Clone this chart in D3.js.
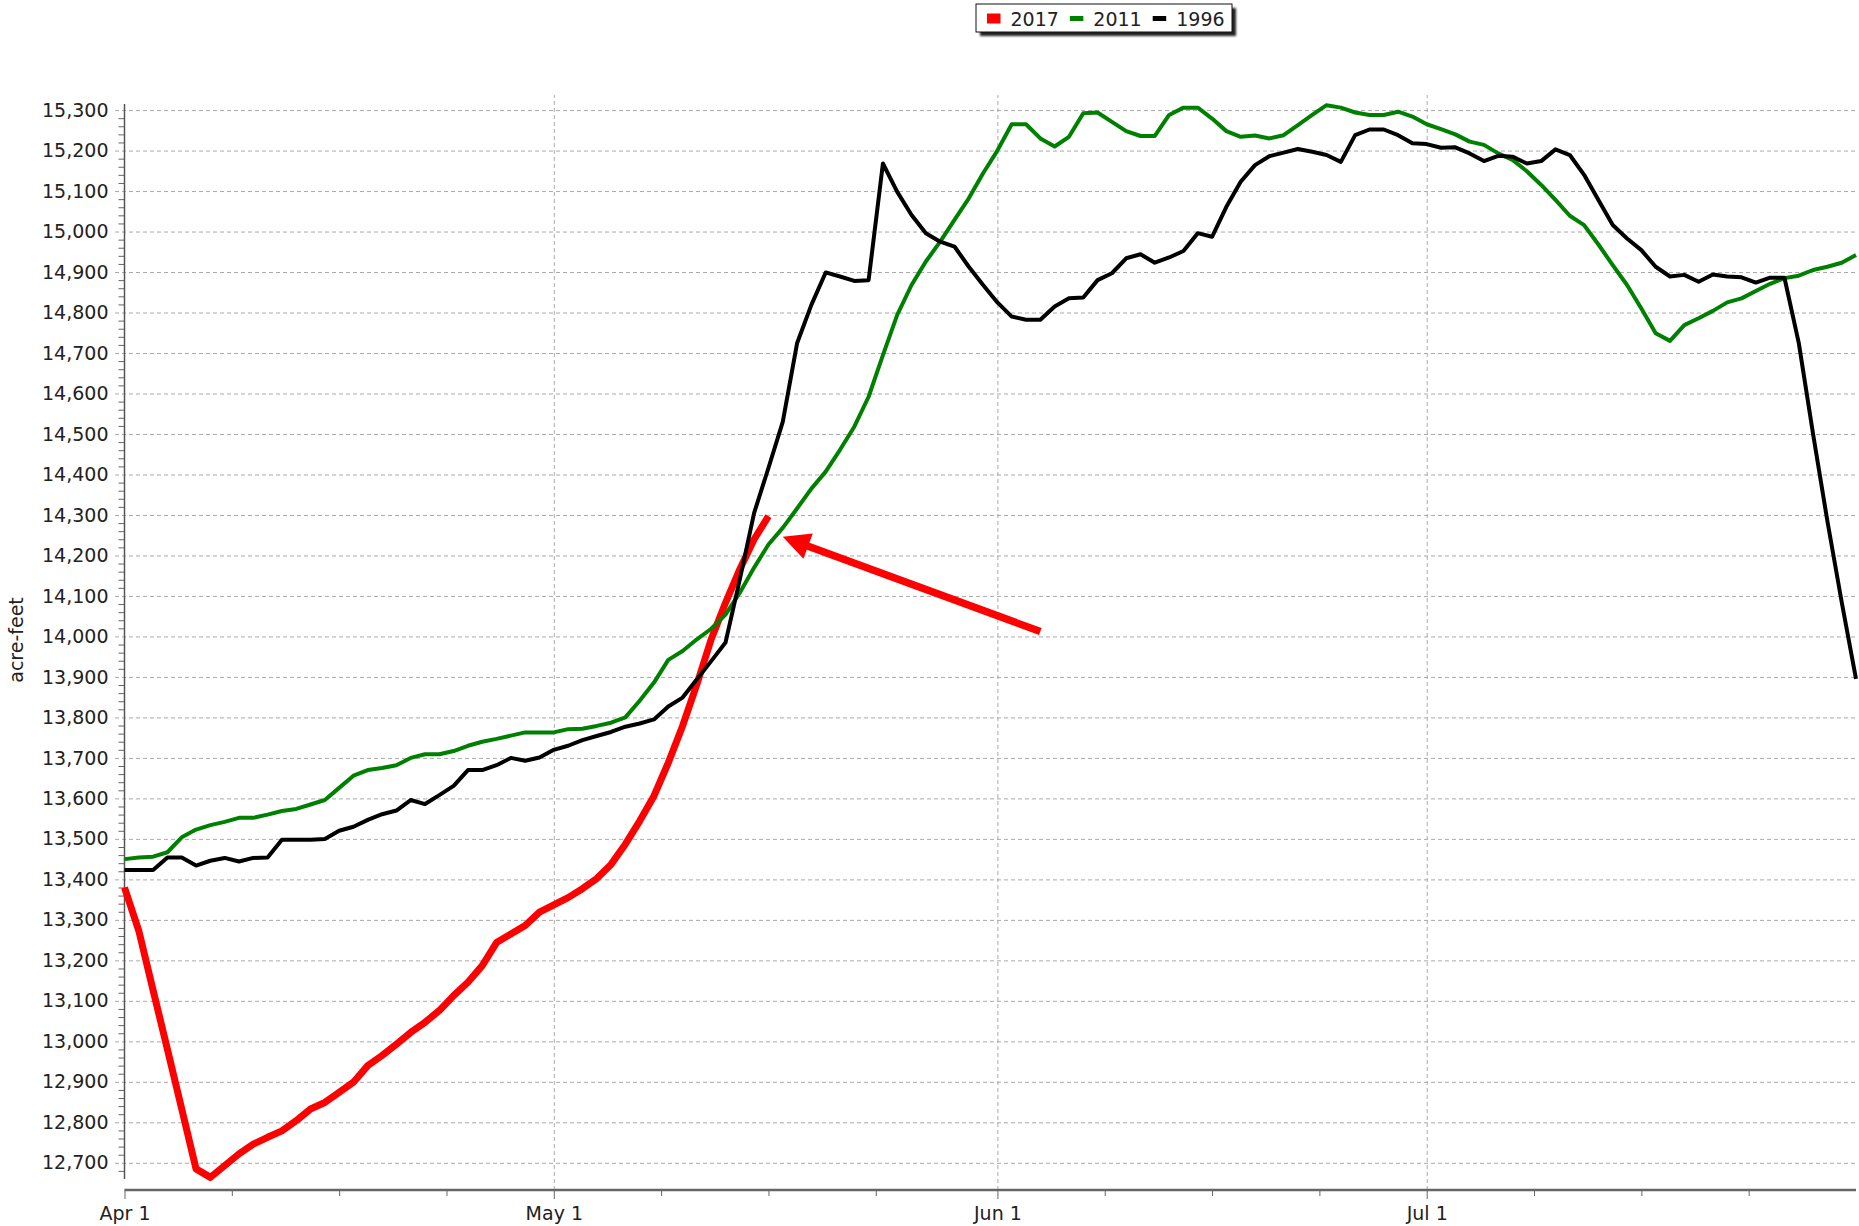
<!DOCTYPE html>
<html>
<head>
<meta charset="utf-8">
<script src="https://cdn.jsdelivr.net/npm/d3@7"></script>
<style>
  html, body { margin: 0; padding: 0; background: #fff; }
  svg { display: block; }
  text { font-family: "DejaVu Sans", Verdana, sans-serif; fill: #222; }
</style>
</head>
<body>
<svg id="chart" width="1859" height="1226"></svg>
<script>
// Daily reservoir storage (acre-feet), one value per day starting April 1.
const seriesNames = ["2017", "2011", "1996"];

const acreFeet2017 = [
  13380, 13273, 13126, 12980, 12833, 12685, 12664, 12693, 12722, 12746,
  12763, 12779, 12804, 12833, 12849, 12874, 12899, 12940, 12965, 12993,
  13022, 13047, 13076, 13113, 13146, 13187, 13244, 13265, 13286, 13319,
  13337, 13355, 13377, 13402, 13437, 13487, 13544, 13606, 13688, 13779,
  13882, 13993, 14083, 14166, 14240, 14297
];

const acreFeet2011 = [
  13450, 13454, 13456, 13467, 13504, 13523, 13534, 13542, 13552, 13552,
  13560, 13569, 13574, 13585, 13596, 13626, 13656, 13670, 13675, 13682,
  13700, 13709, 13709, 13717, 13730, 13740, 13747, 13755, 13763, 13763,
  13763, 13771, 13772, 13779, 13787, 13800, 13841, 13886, 13942, 13964,
  13993, 14019, 14054, 14108, 14170, 14227, 14268, 14316, 14365, 14407,
  14461, 14518, 14592, 14695, 14794, 14868, 14926, 14975, 15029, 15082,
  15144, 15200, 15265, 15265, 15230, 15210, 15234, 15292, 15294, 15271,
  15248, 15236, 15236, 15288, 15306, 15306, 15279, 15248, 15234, 15237,
  15230, 15238, 15263, 15288, 15312, 15306, 15294, 15288, 15288, 15296,
  15284, 15265, 15253, 15240, 15222, 15214, 15193, 15177, 15149, 15115,
  15078, 15039, 15016, 14968, 14917, 14868, 14810, 14749, 14730, 14769,
  14786, 14804, 14825, 14835, 14853, 14871, 14885, 14891, 14905, 14913,
  14923, 14942
];

const acreFeet1996 = [
  13423, 13423, 13423, 13454, 13454, 13434, 13446, 13453, 13444, 13453,
  13454, 13498, 13498, 13498, 13500, 13520, 13530, 13547, 13561, 13570,
  13596, 13586, 13608, 13631, 13670, 13670, 13682, 13700, 13693, 13701,
  13720, 13730, 13744, 13754, 13764, 13777, 13785, 13795, 13827, 13849,
  13894, 13939, 13985, 14141, 14305, 14416, 14530, 14724, 14819, 14899,
  14889, 14878, 14880, 15168, 15098, 15041, 14996, 14975, 14963, 14913,
  14868, 14825, 14790, 14782, 14782, 14815, 14835, 14837, 14880, 14897,
  14934, 14944, 14923, 14936, 14952, 14996, 14987, 15061, 15123, 15164,
  15186, 15195, 15204, 15197, 15189, 15172, 15238, 15252, 15252, 15238,
  15218, 15216, 15207, 15208, 15193, 15174, 15187, 15185, 15168, 15174,
  15203, 15189, 15140, 15078, 15016, 14983, 14954, 14913, 14889, 14893,
  14876, 14894, 14889, 14887, 14874, 14886, 14886, 14725, 14500, 14285,
  14085, 13895
];

const yTickValues = d3.range(12700, 15301, 100);
const monthLabels = ["Apr 1", "May 1", "Jun 1", "Jul 1"];

// Annotation arrow: [day offset from April 1, acre-feet]
const arrowTail = [64, 14012];
const arrowTip = [46, 14246];

// ---------- layout ----------
const svg = d3.select("#chart");
const plotLeft = 124.5, plotRight = 1856, plotTop = 104, plotBottom = 1179;
const xAxisY = 1190, gridTop = 95;

const start = new Date(Date.UTC(2017, 3, 1));
const end = new Date(Date.UTC(2017, 6, 31));
const dayDate = i => d3.utcDay.offset(start, i);

const x = d3.scaleUtc().domain([start, end]).range([plotLeft, plotRight]);
const y = d3.scaleLinear().domain([12660, 15315]).range([plotBottom, plotTop]);

const styles = {
  "2017": { color: "#ff0000", width: 7, swatchH: 10 },
  "2011": { color: "#008000", width: 4, swatchH: 5 },
  "1996": { color: "#000000", width: 4, swatchH: 5 }
};
const seriesData = [acreFeet2017, acreFeet2011, acreFeet1996];

const gridColor = "#aaa";
const dash = "4,3";

// horizontal grid (also forms the major tick stubs left of the axis)
svg.append("g")
  .attr("transform", `translate(115,0)`)
  .call(d3.axisLeft(y).tickValues(yTickValues).tickSize(-(plotRight - 115)).tickFormat(""))
  .call(g => g.select(".domain").remove())
  .selectAll("line")
  .attr("stroke", gridColor)
  .attr("stroke-dasharray", dash);

// vertical grid at month starts
const monthStarts = d3.utcMonth.range(start, d3.utcDay.offset(end, 1));
svg.append("g")
  .attr("transform", `translate(0,${xAxisY})`)
  .call(d3.axisBottom(x).tickValues(monthStarts.slice(1)).tickSize(-(xAxisY - gridTop)).tickFormat(""))
  .call(g => g.select(".domain").remove())
  .selectAll("line")
  .attr("stroke", gridColor)
  .attr("stroke-dasharray", dash);

// y axis labels
const yAxis = svg.append("g")
  .attr("transform", `translate(${plotLeft},0)`)
  .call(d3.axisLeft(y).tickValues(yTickValues).tickSize(0).tickPadding(16).tickFormat(d3.format(",")));
yAxis.select(".domain").remove();
yAxis.selectAll("text")
  .attr("font-family", "DejaVu Sans, Verdana, sans-serif")
  .attr("font-size", 19)
  .attr("fill", "#222");

// y minor ticks every 20
const yMinor = d3.range(12680, 15315, 20).filter(v => v % 100 !== 0);
svg.append("g")
  .attr("transform", `translate(${plotLeft},0)`)
  .call(d3.axisLeft(y).tickValues(yMinor).tickSize(6).tickFormat(""))
  .call(g => g.select(".domain").remove())
  .selectAll("line")
  .attr("stroke", "#666");

// y axis line
svg.append("line")
  .attr("x1", plotLeft).attr("x2", plotLeft)
  .attr("y1", plotTop).attr("y2", plotBottom)
  .attr("stroke", "#555").attr("stroke-width", 1.5);

// x axis: month ticks and labels
const xAxis = svg.append("g")
  .attr("transform", `translate(0,${xAxisY})`)
  .call(d3.axisBottom(x).tickValues(monthStarts)
    .tickSize(9).tickSizeOuter(0).tickPadding(8)
    .tickFormat((d, i) => monthLabels[i]));
xAxis.select(".domain").remove();
xAxis.selectAll("line").attr("stroke", "#666");
xAxis.selectAll("text")
  .attr("font-family", "DejaVu Sans, Verdana, sans-serif")
  .attr("font-size", 19)
  .attr("fill", "#222");

// x minor ticks every 7.5 days after each month start
const xMinor = [];
monthStarts.forEach(m => {
  for (let k = 1; k <= 3; k++) {
    const t = new Date(m.getTime() + k * 7.5 * 864e5);
    if (t <= end) xMinor.push(t);
  }
});
svg.append("g")
  .attr("transform", `translate(0,${xAxisY})`)
  .call(d3.axisBottom(x).tickValues(xMinor).tickSize(6).tickSizeOuter(0).tickFormat(""))
  .call(g => g.select(".domain").remove())
  .selectAll("line").attr("stroke", "#666");

// x axis line
svg.append("line")
  .attr("x1", plotLeft).attr("x2", plotRight)
  .attr("y1", xAxisY).attr("y2", xAxisY)
  .attr("stroke", "#666").attr("stroke-width", 2.5);

// y axis title
svg.append("text")
  .attr("transform", `translate(23,640) rotate(-90)`)
  .attr("text-anchor", "middle")
  .attr("font-size", 19)
  .text("acre-feet");

// ---------- series ----------
const line = d3.line()
  .x((d, i) => x(dayDate(i)))
  .y(d => y(d));

seriesNames.forEach((name, k) => {
  svg.append("path")
    .datum(seriesData[k])
    .attr("fill", "none")
    .attr("stroke", styles[name].color)
    .attr("stroke-width", styles[name].width)
    .attr("stroke-linejoin", "round")
    .attr("d", line);
});

// ---------- annotation arrow ----------
const tail = [x(dayDate(arrowTail[0])), y(arrowTail[1])];
const tip = [x(dayDate(arrowTip[0])), y(arrowTip[1])];
const dx = tip[0] - tail[0], dy = tip[1] - tail[1];
const len = Math.hypot(dx, dy);
const ux = dx / len, uy = dy / len;
const headLen = 27, headHalf = 13.5;
const base = [tip[0] - ux * headLen, tip[1] - uy * headLen];
svg.append("line")
  .attr("x1", tail[0]).attr("y1", tail[1])
  .attr("x2", base[0] + ux * 2).attr("y2", base[1] + uy * 2)
  .attr("stroke", "#ff0000").attr("stroke-width", 7.5);
svg.append("path")
  .attr("fill", "#ff0000")
  .attr("d", `M${tip[0]},${tip[1]}L${base[0] - uy * headHalf},${base[1] + ux * headHalf}L${base[0] + uy * headHalf},${base[1] - ux * headHalf}Z`);

// ---------- legend ----------
const defs = svg.append("defs");
defs.append("filter").attr("id", "legendShadow")
  .append("feGaussianBlur").attr("stdDeviation", 1.2);

const legend = svg.append("g");
const lgX = 976, lgY = 4, lgW = 256, lgH = 28;
legend.append("rect")
  .attr("x", lgX + 4).attr("y", lgY + 4)
  .attr("width", lgW).attr("height", lgH)
  .attr("fill", "#222").attr("filter", "url(#legendShadow)");
legend.append("rect")
  .attr("x", lgX).attr("y", lgY)
  .attr("width", lgW).attr("height", lgH)
  .attr("fill", "#fff").attr("stroke", "#111").attr("stroke-width", 1);

let cx = lgX + 11;
const midY = lgY + 14.5;
seriesNames.forEach(name => {
  const s = styles[name];
  legend.append("rect")
    .attr("x", cx).attr("y", midY - s.swatchH / 2)
    .attr("width", 13.5).attr("height", s.swatchH)
    .attr("fill", s.color);
  cx += 13.5 + 10;
  const t = legend.append("text")
    .attr("x", cx).attr("y", midY + 7)
    .attr("font-size", 19)
    .text(name);
  cx += t.node().getComputedTextLength() + 11;
});
</script>
</body>
</html>
